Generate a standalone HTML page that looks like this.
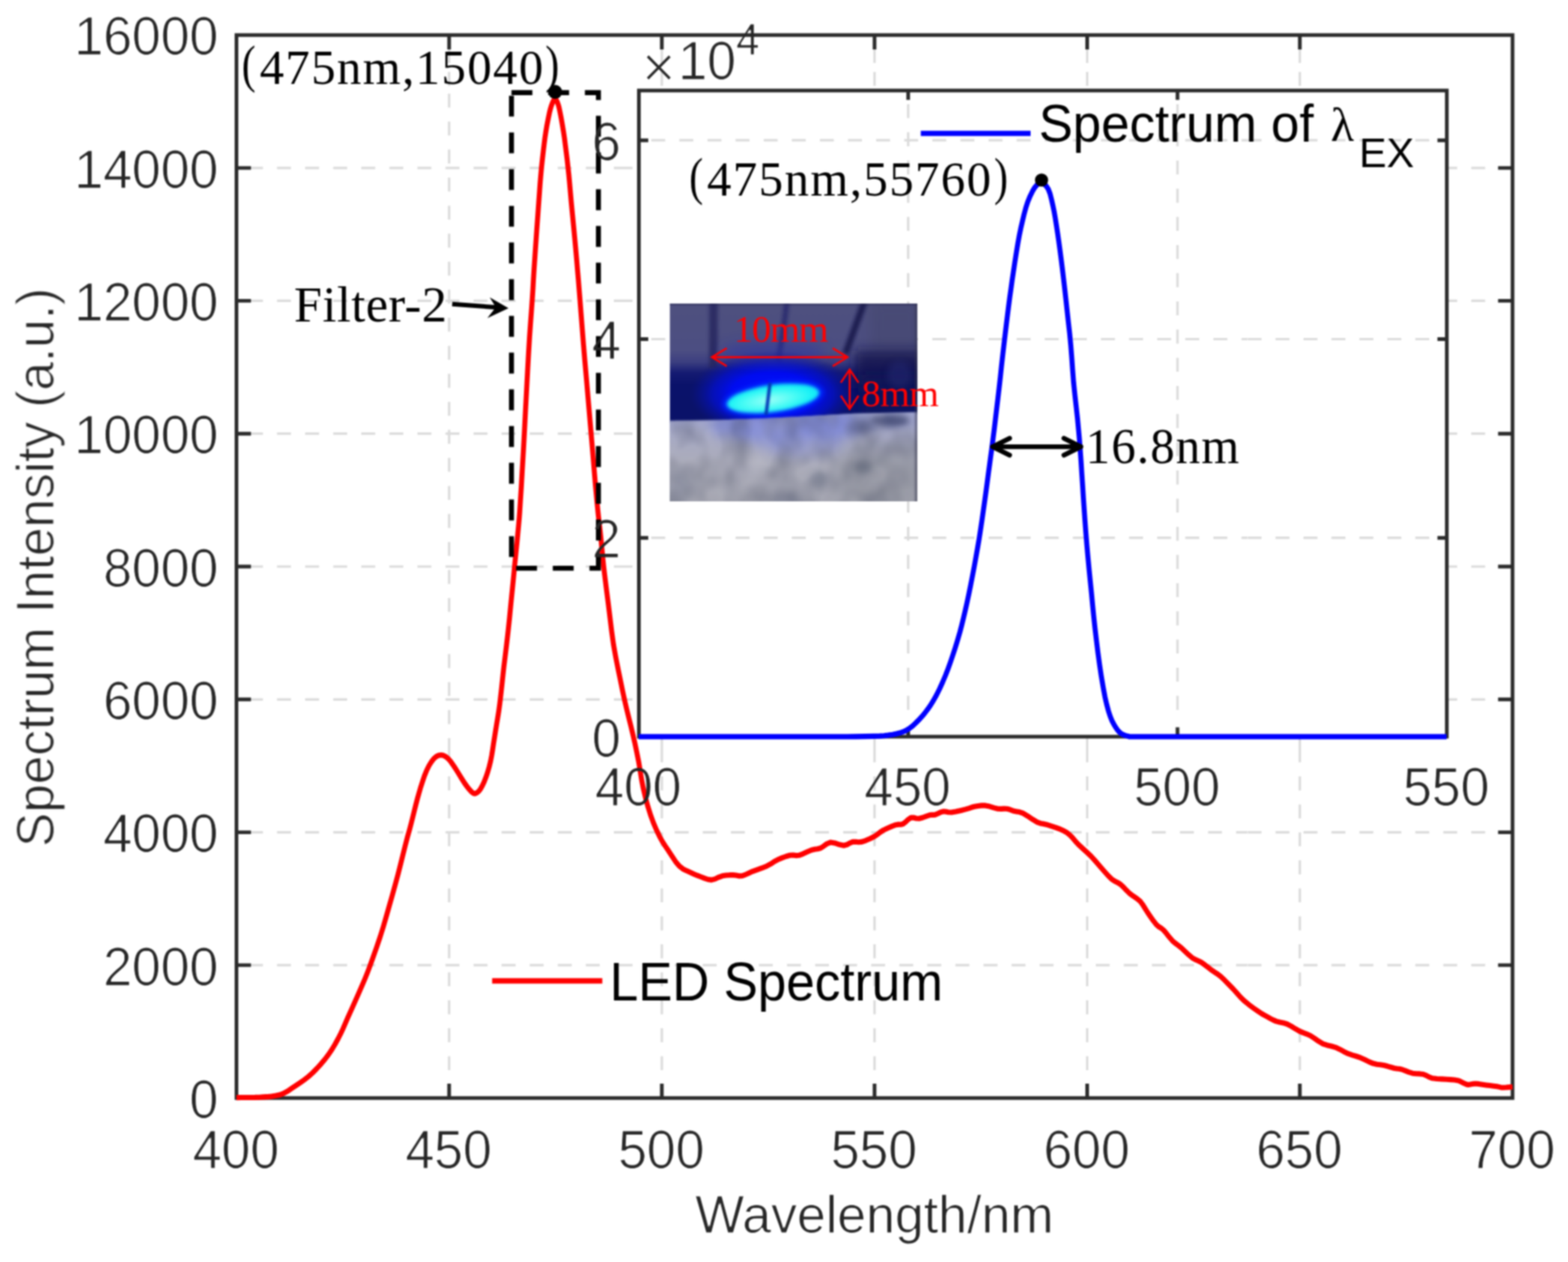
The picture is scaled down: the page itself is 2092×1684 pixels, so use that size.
<!DOCTYPE html>
<html lang="en"><head><meta charset="utf-8"><title>LED Spectrum</title>
<style>html,body{margin:0;padding:0;background:#fff;}body{width:2092px;height:1684px;overflow:hidden;}svg{display:block;}text{white-space:pre;}</style>
</head><body>
<svg xmlns="http://www.w3.org/2000/svg" width="2092" height="1684" viewBox="0 0 2092 1684">
<defs>
<filter id="thin" filterUnits="userSpaceOnUse" x="0" y="0" width="2092" height="1684"><feMorphology operator="erode" radius="1"/></filter>
<filter id="soft" filterUnits="userSpaceOnUse" x="0" y="0" width="2092" height="1684" color-interpolation-filters="sRGB"><feConvolveMatrix order="5" kernelMatrix="1 4 6 4 1 4 16 24 16 4 6 24 36 24 6 4 16 24 16 4 1 4 6 4 1" divisor="256" edgeMode="duplicate" preserveAlpha="true"/></filter>
<filter id="b1" filterUnits="userSpaceOnUse" x="840" y="360" width="440" height="360"><feGaussianBlur stdDeviation="1.2"/></filter>
<filter id="b2" filterUnits="userSpaceOnUse" x="840" y="360" width="440" height="360"><feGaussianBlur stdDeviation="2"/></filter>
<filter id="b3" filterUnits="userSpaceOnUse" x="840" y="360" width="440" height="360"><feGaussianBlur stdDeviation="3"/></filter>
<filter id="b4" filterUnits="userSpaceOnUse" x="840" y="360" width="440" height="360"><feGaussianBlur stdDeviation="4"/></filter>
<filter id="b8" filterUnits="userSpaceOnUse" x="840" y="360" width="440" height="360"><feGaussianBlur stdDeviation="8"/></filter>
<filter id="b14" filterUnits="userSpaceOnUse" x="840" y="360" width="440" height="360"><feGaussianBlur stdDeviation="14"/></filter>
<filter id="noise" x="0" y="0" width="100%" height="100%" color-interpolation-filters="sRGB">
<feTurbulence type="fractalNoise" baseFrequency="0.03 0.026" numOctaves="2" seed="11" result="n"/>
<feColorMatrix in="n" type="matrix" values="0 0 0 0 0.3  0 0 0 0 0.32  0 0 0 0 0.4  1.5 0 0 0 -0.5"/>
</filter>
<filter id="noiseL" x="0" y="0" width="100%" height="100%" color-interpolation-filters="sRGB">
<feTurbulence type="fractalNoise" baseFrequency="0.03 0.025" numOctaves="2" seed="29" result="n"/>
<feColorMatrix in="n" type="matrix" values="0 0 0 0 0.8  0 0 0 0 0.8  0 0 0 0 0.84  0 1.5 0 0 -0.55"/>
</filter>
<linearGradient id="pTop" x1="0" y1="0" x2="0" y2="1">
<stop offset="0" stop-color="#4e507e"/>
<stop offset="0.38" stop-color="#4c4e82"/>
<stop offset="0.47" stop-color="#3c3f80"/>
<stop offset="0.56" stop-color="#141a72"/>
<stop offset="0.66" stop-color="#0a126a"/>
<stop offset="1" stop-color="#0a1268"/>
</linearGradient>
<linearGradient id="pBot" x1="0" y1="0" x2="0" y2="1">
<stop offset="0" stop-color="#9aa0d2"/>
<stop offset="0.25" stop-color="#a4a7c4"/>
<stop offset="0.55" stop-color="#acadbb"/>
<stop offset="1" stop-color="#a2a3ae"/>
</linearGradient>
<radialGradient id="glow" cx="0.5" cy="0.5" r="0.5">
<stop offset="0" stop-color="#0010ff" stop-opacity="1"/>
<stop offset="0.5" stop-color="#000cf0" stop-opacity="1"/>
<stop offset="0.72" stop-color="#0410c8" stop-opacity="0.8"/>
<stop offset="0.88" stop-color="#0812a0" stop-opacity="0.4"/>
<stop offset="1" stop-color="#0a1280" stop-opacity="0"/>
</radialGradient>
<radialGradient id="spot" cx="0.46" cy="0.55" r="0.6">
<stop offset="0" stop-color="#9cfff8"/>
<stop offset="0.45" stop-color="#4cfcf4"/>
<stop offset="0.8" stop-color="#14f0f6"/>
<stop offset="1" stop-color="#10d8f8"/>
</radialGradient>
<clipPath id="pclip"><rect x="893.6" y="405.2" width="330.2" height="263.8"/></clipPath>
<clipPath id="gclip"><path d="M880,561.6 L960,560.4 L1060,556.2 L1140,551.8 L1240,549.6 L1240,690 L880,690 Z"/></clipPath>
<clipPath id="tclip"><path d="M880,390 L1240,390 L1240,553 L1140,555 L1060,559.4 L960,563.6 L880,564.8 Z"/></clipPath>
</defs>

<rect width="2092" height="1684" fill="#fff"/>
<g id="figure" filter="url(#soft)">
<rect width="2092" height="1684" fill="#fff"/>
<g id="main-grid" stroke="#dbdbdb" stroke-width="3.2" fill="none">
<path d="M599.2,1465.2 V1446.8 M599.2,1428.1 V1409.5 M599.2,1390.7 V1372.1 M599.2,1353.4 V1334.8 M599.2,1316 V1297.4 M599.2,1278.7 V1260.1 M599.2,1241.4 V1222.8 M599.2,1204 V1185.4 M599.2,1166.7 V1148.1 M599.2,1129.3 V1110.7 M599.2,1092 V1073.4 M599.2,1054.7 V1036.1 M599.2,1017.3 V1003.6 M599.2,1003.6 V985 M599.2,966.2 V947.6 M599.2,928.8 V910.2 M599.2,891.4 V872.8 M599.2,854 V835.4 M599.2,816.6 V798 M599.2,779.2 V760.6 M599.2,741.8 V723.2 M599.2,704.4 V685.8 M599.2,667 V648.4 M599.2,629.6 V611 M599.2,592.2 V573.6 M599.2,554.8 V536.2 M599.2,517.4 V498.8 M599.2,480 V461.4 M599.2,442.6 V424 M599.2,405.2 V386.6 M599.2,367.8 V349.2 M599.2,330.4 V311.8 M599.2,293 V274.4 M599.2,255.6 V237 M599.2,218.2 V199.6 M599.2,180.8 V162.2 M599.2,143.4 V125 M599.2,114.5 V95.9 M599.2,84 V65.4"/>
<path d="M883,1465.2 V1446.8 M883,1428.1 V1409.5 M883,1390.7 V1372.1 M883,1353.4 V1334.8 M883,1316 V1297.4 M883,1278.7 V1260.1 M883,1241.4 V1222.8 M883,1204 V1185.4 M883,1166.7 V1148.1 M883,1129.3 V1110.7 M883,1092 V1073.4 M883,1054.7 V1036.1 M883,1017.3 V1003.6 M883,1003.6 V985 M883,966.2 V947.6 M883,928.8 V910.2 M883,891.4 V872.8 M883,854 V835.4 M883,816.6 V798 M883,779.2 V760.6 M883,741.8 V723.2 M883,704.4 V685.8 M883,667 V648.4 M883,629.6 V611 M883,592.2 V573.6 M883,554.8 V536.2 M883,517.4 V498.8 M883,480 V461.4 M883,442.6 V424 M883,405.2 V386.6 M883,367.8 V349.2 M883,330.4 V311.8 M883,293 V274.4 M883,255.6 V237 M883,218.2 V199.6 M883,180.8 V162.2 M883,143.4 V125 M883,114.5 V95.9 M883,84 V65.4"/>
<path d="M1166.8,1465.2 V1446.8 M1166.8,1428.1 V1409.5 M1166.8,1390.7 V1372.1 M1166.8,1353.4 V1334.8 M1166.8,1316 V1297.4 M1166.8,1278.7 V1260.1 M1166.8,1241.4 V1222.8 M1166.8,1204 V1185.4 M1166.8,1166.7 V1148.1 M1166.8,1129.3 V1110.7 M1166.8,1092 V1073.4 M1166.8,1054.7 V1036.1 M1166.8,1017.3 V1003.6 M1166.8,1003.6 V985 M1166.8,966.2 V947.6 M1166.8,928.8 V910.2 M1166.8,891.4 V872.8 M1166.8,854 V835.4 M1166.8,816.6 V798 M1166.8,779.2 V760.6 M1166.8,741.8 V723.2 M1166.8,704.4 V685.8 M1166.8,667 V648.4 M1166.8,629.6 V611 M1166.8,592.2 V573.6 M1166.8,554.8 V536.2 M1166.8,517.4 V498.8 M1166.8,480 V461.4 M1166.8,442.6 V424 M1166.8,405.2 V386.6 M1166.8,367.8 V349.2 M1166.8,330.4 V311.8 M1166.8,293 V274.4 M1166.8,255.6 V237 M1166.8,218.2 V199.6 M1166.8,180.8 V162.2 M1166.8,143.4 V125 M1166.8,114.5 V95.9 M1166.8,84 V65.4"/>
<path d="M1450.5,1465.2 V1446.8 M1450.5,1428.1 V1409.5 M1450.5,1390.7 V1372.1 M1450.5,1353.4 V1334.8 M1450.5,1316 V1297.4 M1450.5,1278.7 V1260.1 M1450.5,1241.4 V1222.8 M1450.5,1204 V1185.4 M1450.5,1166.7 V1148.1 M1450.5,1129.3 V1110.7 M1450.5,1092 V1073.4 M1450.5,1054.7 V1036.1 M1450.5,1017.3 V1003.6 M1450.5,1003.6 V985 M1450.5,966.2 V947.6 M1450.5,928.8 V910.2 M1450.5,891.4 V872.8 M1450.5,854 V835.4 M1450.5,816.6 V798 M1450.5,779.2 V760.6 M1450.5,741.8 V723.2 M1450.5,704.4 V685.8 M1450.5,667 V648.4 M1450.5,629.6 V611 M1450.5,592.2 V573.6 M1450.5,554.8 V536.2 M1450.5,517.4 V498.8 M1450.5,480 V461.4 M1450.5,442.6 V424 M1450.5,405.2 V386.6 M1450.5,367.8 V349.2 M1450.5,330.4 V311.8 M1450.5,293 V274.4 M1450.5,255.6 V237 M1450.5,218.2 V199.6 M1450.5,180.8 V162.2 M1450.5,143.4 V125 M1450.5,114.5 V95.9 M1450.5,84 V65.4"/>
<path d="M1734.2,1465.2 V1446.8 M1734.2,1428.1 V1409.5 M1734.2,1390.7 V1372.1 M1734.2,1353.4 V1334.8 M1734.2,1316 V1297.4 M1734.2,1278.7 V1260.1 M1734.2,1241.4 V1222.8 M1734.2,1204 V1185.4 M1734.2,1166.7 V1148.1 M1734.2,1129.3 V1110.7 M1734.2,1092 V1073.4 M1734.2,1054.7 V1036.1 M1734.2,1017.3 V1003.6 M1734.2,1003.6 V985 M1734.2,966.2 V947.6 M1734.2,928.8 V910.2 M1734.2,891.4 V872.8 M1734.2,854 V835.4 M1734.2,816.6 V798 M1734.2,779.2 V760.6 M1734.2,741.8 V723.2 M1734.2,704.4 V685.8 M1734.2,667 V648.4 M1734.2,629.6 V611 M1734.2,592.2 V573.6 M1734.2,554.8 V536.2 M1734.2,517.4 V498.8 M1734.2,480 V461.4 M1734.2,442.6 V424 M1734.2,405.2 V386.6 M1734.2,367.8 V349.2 M1734.2,330.4 V311.8 M1734.2,293 V274.4 M1734.2,255.6 V237 M1734.2,218.2 V199.6 M1734.2,180.8 V162.2 M1734.2,143.4 V125 M1734.2,114.5 V95.9 M1734.2,84 V65.4"/>
<path d="M332.2,1287.9 H350.8 M369.6,1287.9 H388.2 M407.1,1287.9 H425.7 M444.6,1287.9 H463.2 M482,1287.9 H500.6 M519.5,1287.9 H538.1 M556.9,1287.9 H575.5 M594.4,1287.9 H613 M631.8,1287.9 H650.4 M669.2,1287.9 H687.9 M706.7,1287.9 H725.3 M744.2,1287.9 H762.8 M781.6,1287.9 H800.2 M819,1287.9 H825.3 M825.3,1287.9 H843.9 M862.8,1287.9 H881.4 M900.2,1287.9 H918.8 M937.6,1287.9 H956.2 M975.1,1287.9 H993.7 M1012.5,1287.9 H1031.1 M1050,1287.9 H1068.6 M1087.5,1287.9 H1106 M1124.9,1287.9 H1143.5 M1162.3,1287.9 H1180.9 M1199.8,1287.9 H1218.4 M1237.2,1287.9 H1255.8 M1274.7,1287.9 H1293.3 M1312.2,1287.9 H1330.8 M1349.6,1287.9 H1368.2 M1387,1287.9 H1405.6 M1424.5,1287.9 H1443.1 M1462,1287.9 H1480.5 M1499.4,1287.9 H1518 M1536.8,1287.9 H1555.4 M1574.3,1287.9 H1592.9 M1611.8,1287.9 H1630.3 M1649.2,1287.9 H1664 M1664.5,1287.9 H1683.1 M1701.8,1287.9 H1720.4 M1739.1,1287.9 H1757.7 M1776.4,1287.9 H1795 M1813.7,1287.9 H1832.3 M1851,1287.9 H1869.6 M1888.3,1287.9 H1906.9 M1925.6,1287.9 H1944.2 M1962.9,1287.9 H1981.5 M2000.2,1287.9 H2018"/>
<path d="M332.2,1110.6 H350.8 M369.6,1110.6 H388.2 M407.1,1110.6 H425.7 M444.6,1110.6 H463.2 M482,1110.6 H500.6 M519.5,1110.6 H538.1 M556.9,1110.6 H575.5 M594.4,1110.6 H613 M631.8,1110.6 H650.4 M669.2,1110.6 H687.9 M706.7,1110.6 H725.3 M744.2,1110.6 H762.8 M781.6,1110.6 H800.2 M819,1110.6 H825.3 M825.3,1110.6 H843.9 M862.8,1110.6 H881.4 M900.2,1110.6 H918.8 M937.6,1110.6 H956.2 M975.1,1110.6 H993.7 M1012.5,1110.6 H1031.1 M1050,1110.6 H1068.6 M1087.5,1110.6 H1106 M1124.9,1110.6 H1143.5 M1162.3,1110.6 H1180.9 M1199.8,1110.6 H1218.4 M1237.2,1110.6 H1255.8 M1274.7,1110.6 H1293.3 M1312.2,1110.6 H1330.8 M1349.6,1110.6 H1368.2 M1387,1110.6 H1405.6 M1424.5,1110.6 H1443.1 M1462,1110.6 H1480.5 M1499.4,1110.6 H1518 M1536.8,1110.6 H1555.4 M1574.3,1110.6 H1592.9 M1611.8,1110.6 H1630.3 M1649.2,1110.6 H1664 M1664.5,1110.6 H1683.1 M1701.8,1110.6 H1720.4 M1739.1,1110.6 H1757.7 M1776.4,1110.6 H1795 M1813.7,1110.6 H1832.3 M1851,1110.6 H1869.6 M1888.3,1110.6 H1906.9 M1925.6,1110.6 H1944.2 M1962.9,1110.6 H1981.5 M2000.2,1110.6 H2018"/>
<path d="M332.2,933.3 H350.8 M369.6,933.3 H388.2 M407.1,933.3 H425.7 M444.6,933.3 H463.2 M482,933.3 H500.6 M519.5,933.3 H538.1 M556.9,933.3 H575.5 M594.4,933.3 H613 M631.8,933.3 H650.4 M669.2,933.3 H687.9 M706.7,933.3 H725.3 M744.2,933.3 H762.8 M781.6,933.3 H800.2 M819,933.3 H825.3 M825.3,933.3 H843.9 M862.8,933.3 H881.4 M900.2,933.3 H918.8 M937.6,933.3 H956.2 M975.1,933.3 H993.7 M1012.5,933.3 H1031.1 M1050,933.3 H1068.6 M1087.5,933.3 H1106 M1124.9,933.3 H1143.5 M1162.3,933.3 H1180.9 M1199.8,933.3 H1218.4 M1237.2,933.3 H1255.8 M1274.7,933.3 H1293.3 M1312.2,933.3 H1330.8 M1349.6,933.3 H1368.2 M1387,933.3 H1405.6 M1424.5,933.3 H1443.1 M1462,933.3 H1480.5 M1499.4,933.3 H1518 M1536.8,933.3 H1555.4 M1574.3,933.3 H1592.9 M1611.8,933.3 H1630.3 M1649.2,933.3 H1664 M1664.5,933.3 H1683.1 M1701.8,933.3 H1720.4 M1739.1,933.3 H1757.7 M1776.4,933.3 H1795 M1813.7,933.3 H1832.3 M1851,933.3 H1869.6 M1888.3,933.3 H1906.9 M1925.6,933.3 H1944.2 M1962.9,933.3 H1981.5 M2000.2,933.3 H2018"/>
<path d="M332.2,756 H350.8 M369.6,756 H388.2 M407.1,756 H425.7 M444.6,756 H463.2 M482,756 H500.6 M519.5,756 H538.1 M556.9,756 H575.5 M594.4,756 H613 M631.8,756 H650.4 M669.2,756 H687.9 M706.7,756 H725.3 M744.2,756 H762.8 M781.6,756 H800.2 M819,756 H825.3 M825.3,756 H843.9 M862.8,756 H881.4 M900.2,756 H918.8 M937.6,756 H956.2 M975.1,756 H993.7 M1012.5,756 H1031.1 M1050,756 H1068.6 M1087.5,756 H1106 M1124.9,756 H1143.5 M1162.3,756 H1180.9 M1199.8,756 H1218.4 M1237.2,756 H1255.8 M1274.7,756 H1293.3 M1312.2,756 H1330.8 M1349.6,756 H1368.2 M1387,756 H1405.6 M1424.5,756 H1443.1 M1462,756 H1480.5 M1499.4,756 H1518 M1536.8,756 H1555.4 M1574.3,756 H1592.9 M1611.8,756 H1630.3 M1649.2,756 H1664 M1664.5,756 H1683.1 M1701.8,756 H1720.4 M1739.1,756 H1757.7 M1776.4,756 H1795 M1813.7,756 H1832.3 M1851,756 H1869.6 M1888.3,756 H1906.9 M1925.6,756 H1944.2 M1962.9,756 H1981.5 M2000.2,756 H2018"/>
<path d="M332.2,578.7 H350.8 M369.6,578.7 H388.2 M407.1,578.7 H425.7 M444.6,578.7 H463.2 M482,578.7 H500.6 M519.5,578.7 H538.1 M556.9,578.7 H575.5 M594.4,578.7 H613 M631.8,578.7 H650.4 M669.2,578.7 H687.9 M706.7,578.7 H725.3 M744.2,578.7 H762.8 M781.6,578.7 H800.2 M819,578.7 H825.3 M825.3,578.7 H843.9 M862.8,578.7 H881.4 M900.2,578.7 H918.8 M937.6,578.7 H956.2 M975.1,578.7 H993.7 M1012.5,578.7 H1031.1 M1050,578.7 H1068.6 M1087.5,578.7 H1106 M1124.9,578.7 H1143.5 M1162.3,578.7 H1180.9 M1199.8,578.7 H1218.4 M1237.2,578.7 H1255.8 M1274.7,578.7 H1293.3 M1312.2,578.7 H1330.8 M1349.6,578.7 H1368.2 M1387,578.7 H1405.6 M1424.5,578.7 H1443.1 M1462,578.7 H1480.5 M1499.4,578.7 H1518 M1536.8,578.7 H1555.4 M1574.3,578.7 H1592.9 M1611.8,578.7 H1630.3 M1649.2,578.7 H1664 M1664.5,578.7 H1683.1 M1701.8,578.7 H1720.4 M1739.1,578.7 H1757.7 M1776.4,578.7 H1795 M1813.7,578.7 H1832.3 M1851,578.7 H1869.6 M1888.3,578.7 H1906.9 M1925.6,578.7 H1944.2 M1962.9,578.7 H1981.5 M2000.2,578.7 H2018"/>
<path d="M332.2,401.4 H350.8 M369.6,401.4 H388.2 M407.1,401.4 H425.7 M444.6,401.4 H463.2 M482,401.4 H500.6 M519.5,401.4 H538.1 M556.9,401.4 H575.5 M594.4,401.4 H613 M631.8,401.4 H650.4 M669.2,401.4 H687.9 M706.7,401.4 H725.3 M744.2,401.4 H762.8 M781.6,401.4 H800.2 M819,401.4 H825.3 M825.3,401.4 H843.9 M862.8,401.4 H881.4 M900.2,401.4 H918.8 M937.6,401.4 H956.2 M975.1,401.4 H993.7 M1012.5,401.4 H1031.1 M1050,401.4 H1068.6 M1087.5,401.4 H1106 M1124.9,401.4 H1143.5 M1162.3,401.4 H1180.9 M1199.8,401.4 H1218.4 M1237.2,401.4 H1255.8 M1274.7,401.4 H1293.3 M1312.2,401.4 H1330.8 M1349.6,401.4 H1368.2 M1387,401.4 H1405.6 M1424.5,401.4 H1443.1 M1462,401.4 H1480.5 M1499.4,401.4 H1518 M1536.8,401.4 H1555.4 M1574.3,401.4 H1592.9 M1611.8,401.4 H1630.3 M1649.2,401.4 H1664 M1664.5,401.4 H1683.1 M1701.8,401.4 H1720.4 M1739.1,401.4 H1757.7 M1776.4,401.4 H1795 M1813.7,401.4 H1832.3 M1851,401.4 H1869.6 M1888.3,401.4 H1906.9 M1925.6,401.4 H1944.2 M1962.9,401.4 H1981.5 M2000.2,401.4 H2018"/>
<path d="M332.2,224.1 H350.8 M369.6,224.1 H388.2 M407.1,224.1 H425.7 M444.6,224.1 H463.2 M482,224.1 H500.6 M519.5,224.1 H538.1 M556.9,224.1 H575.5 M594.4,224.1 H613 M631.8,224.1 H650.4 M669.2,224.1 H687.9 M706.7,224.1 H725.3 M744.2,224.1 H762.8 M781.6,224.1 H800.2 M819,224.1 H825.3 M825.3,224.1 H843.9 M862.8,224.1 H881.4 M900.2,224.1 H918.8 M937.6,224.1 H956.2 M975.1,224.1 H993.7 M1012.5,224.1 H1031.1 M1050,224.1 H1068.6 M1087.5,224.1 H1106 M1124.9,224.1 H1143.5 M1162.3,224.1 H1180.9 M1199.8,224.1 H1218.4 M1237.2,224.1 H1255.8 M1274.7,224.1 H1293.3 M1312.2,224.1 H1330.8 M1349.6,224.1 H1368.2 M1387,224.1 H1405.6 M1424.5,224.1 H1443.1 M1462,224.1 H1480.5 M1499.4,224.1 H1518 M1536.8,224.1 H1555.4 M1574.3,224.1 H1592.9 M1611.8,224.1 H1630.3 M1649.2,224.1 H1664 M1664.5,224.1 H1683.1 M1701.8,224.1 H1720.4 M1739.1,224.1 H1757.7 M1776.4,224.1 H1795 M1813.7,224.1 H1832.3 M1851,224.1 H1869.6 M1888.3,224.1 H1906.9 M1925.6,224.1 H1944.2 M1962.9,224.1 H1981.5 M2000.2,224.1 H2018"/>
</g>
<clipPath id="mclip"><rect x="313.5" y="46.8" width="1706.5" height="1422.4"/></clipPath>
<g id="main-axes" stroke="#2b2b2b" stroke-width="4.9" fill="none" stroke-linecap="butt">
<rect x="315.5" y="46.8" width="1702.5" height="1418.4"/>
<path d="M599.2,1465.2 v-19.3 M599.2,46.8 v19.3"/>
<path d="M883,1465.2 v-19.3 M883,46.8 v19.3"/>
<path d="M1166.8,1465.2 v-19.3 M1166.8,46.8 v19.3"/>
<path d="M1450.5,1465.2 v-19.3 M1450.5,46.8 v19.3"/>
<path d="M1734.2,1465.2 v-19.3 M1734.2,46.8 v19.3"/>
<path d="M315.5,1287.9 h19.3 M2018,1287.9 h-19.3"/>
<path d="M315.5,1110.6 h19.3 M2018,1110.6 h-19.3"/>
<path d="M315.5,933.3 h19.3 M2018,933.3 h-19.3"/>
<path d="M315.5,756 h19.3 M2018,756 h-19.3"/>
<path d="M315.5,578.7 h19.3 M2018,578.7 h-19.3"/>
<path d="M315.5,401.4 h19.3 M2018,401.4 h-19.3"/>
<path d="M315.5,224.1 h19.3 M2018,224.1 h-19.3"/>
</g>
<g clip-path="url(#mclip)"><path id="led" transform="scale(1,1.06)" d="M315.5,1381.7 L322.2,1381.67 L331.6,1381.62 L340,1381.51 L345.9,1381.3 L350.8,1381.03 L355,1380.75 L358.2,1380.57 L360.7,1380.37 L363.8,1379.91 L368.1,1379.24 L372.9,1378.31 L378.1,1376.6 L383.5,1373.76 L389.2,1370.14 L394.9,1366.42 L400.5,1362.92 L406,1359.31 L411.6,1355.19 L417.3,1350.33 L422.9,1344.95 L428.3,1339.34 L433.4,1333.58 L438.2,1327.58 L442.7,1321.32 L446.9,1314.73 L450.9,1307.88 L454.6,1301.04 L457.6,1295.03 L460.4,1289.02 L464.2,1280.75 L470.2,1268.07 L477.3,1253.13 L483.3,1240.19 L487,1231.93 L489.7,1225.66 L492.9,1217.64 L497.4,1206.01 L502.4,1192.62 L507.2,1179.25 L511.4,1166.55 L515.3,1153.87 L519.2,1140.94 L523.3,1127.42 L527.3,1113.65 L531.1,1100.38 L534.5,1087.75 L537.7,1075.61 L540.7,1064.25 L543.6,1053.75 L546.5,1044.01 L549,1035 L551.2,1026.84 L553.1,1019.41 L555,1012.26 L556.9,1005.46 L558.8,998.95 L560.9,992.17 L563.5,984.54 L566.3,976.64 L569.3,969.62 L572.4,963.79 L575.7,958.83 L578.9,955 L582.1,952.41 L585.2,950.94 L588.4,950.47 L591.6,951.02 L594.8,952.58 L598,955 L601.1,958.33 L604.2,962.53 L607.6,967.36 L611.5,973.24 L615.7,979.74 L619.5,985.38 L622.7,989.61 L625.4,992.96 L627.9,995.57 L630,997.54 L631.8,998.75 L633.8,998.96 L636.1,998.08 L638.6,996.19 L641,993.3 L643.4,989.3 L645.9,984.3 L648.2,978.68 L650.5,972.42 L652.6,965.53 L654.5,958.4 L656,951.09 L657.3,943.53 L658.5,935.85 L659.8,928.17 L661.1,920.37 L662.5,912.26 L663.9,904.36 L665.3,896.14 L666.8,885.85 L668.5,872.2 L670.3,856.48 L672.1,840.75 L674,826.06 L675.9,811.36 L677.8,795.66 L679.8,777.95 L681.7,759.22 L683.6,741.51 L685.3,725.47 L686.8,710.44 L688.3,696.42 L689.7,683.45 L690.9,671.48 L692,660.38 L692.8,651.77 L693.4,644.02 L694.2,632.08 L695.5,613.21 L696.9,590.15 L698.4,566.04 L699.8,541.23 L701.2,515.37 L702.6,490.57 L703.9,467.16 L705.2,444.79 L706.5,424.53 L707.8,407.06 L709,391.68 L710.1,377.36 L711,364.12 L711.7,351.92 L712.5,339.62 L713.4,327.04 L714.3,314.35 L715.3,300.94 L716.4,286.05 L717.6,270.45 L718.7,255.85 L719.7,242.9 L720.6,230.96 L721.6,219.81 L722.6,209.52 L723.7,200.03 L724.8,190.94 L725.9,182.18 L727,173.82 L728.3,165.66 L729.8,157.25 L731.5,149.05 L733,142.17 L734.3,137.25 L735.4,133.67 L736.6,130.66 L737.9,127.7 L739.3,125.32 L740.6,124.34 L741.9,125.32 L743.2,127.7 L744.4,130.66 L745.4,133.67 L746.3,137.25 L747.4,142.17 L748.8,149.05 L750.3,157.25 L751.8,165.66 L753.1,173.82 L754.2,182.18 L755.4,190.94 L756.6,200.03 L757.7,209.52 L758.9,219.81 L760,230.96 L761.1,242.9 L762.3,255.85 L763.8,270.45 L765.4,286.05 L766.9,300.94 L768.2,314.35 L769.4,327.04 L770.5,339.62 L771.6,351.57 L772.6,363.42 L773.8,377.36 L775.2,394.48 L776.8,413.7 L778.5,433.96 L780.4,455.28 L782.5,477.64 L784.5,500 L786.5,522.01 L788.5,544.03 L790.5,566.04 L792.5,588.75 L794.5,611.46 L796.5,632.08 L798.4,649.65 L800.3,665.13 L801.9,679.25 L803.1,691.4 L804.2,702.2 L805.5,714.15 L807.3,728.23 L809.3,743.47 L811.5,759.43 L813.7,776.48 L816,794.27 L818.5,811.32 L821.5,827.29 L824.7,842.52 L827.8,856.6 L830.5,869.08 L833.1,880.4 L835.8,891.51 L838.7,902.62 L841.6,913.53 L844.4,924.53 L847.1,935.76 L849.6,947.08 L852,958.4 L854,969.66 L855.9,980.91 L858.2,992.17 L861.1,1003.71 L864.4,1015.26 L868,1026.04 L871.8,1035.87 L875.9,1044.94 L880,1053.02 L883.9,1059.68 L887.8,1065.35 L892,1071.13 L896.6,1077.86 L901.4,1084.7 L906.3,1090.28 L911.1,1093.81 L915.9,1096.08 L920.7,1098.11 L925.5,1100.23 L930.2,1102.1 L935,1103.77 L939.8,1105.52 L944.5,1107.08 L949.3,1107.64 L954.1,1106.49 L958.9,1104.35 L963.7,1102.64 L968.6,1101.89 L973.4,1101.58 L978,1101.51 L982,1101.97 L985.6,1102.68 L989.6,1102.64 L994,1101.3 L998.7,1099.2 L1003.9,1096.98 L1010.1,1094.87 L1016.8,1092.65 L1023,1090.28 L1028.1,1087.65 L1032.6,1084.88 L1037.4,1082.36 L1043,1080.09 L1048.8,1078.08 L1054.1,1076.7 L1058.2,1076.53 L1061.8,1076.98 L1066,1076.7 L1071.4,1074.8 L1077.4,1072.15 L1082.8,1070 L1087.1,1069.1 L1090.8,1068.7 L1094.7,1067.74 L1098.8,1065.27 L1103.1,1062.25 L1107.9,1060.47 L1113.7,1061.25 L1120.1,1063.26 L1125.8,1064.34 L1130.2,1063.28 L1133.9,1061.3 L1137.7,1059.81 L1141.5,1059.73 L1145.3,1060.15 L1149.7,1059.81 L1155.1,1058.09 L1161,1055.61 L1166.4,1053.02 L1170.6,1050.45 L1174.2,1047.76 L1178.4,1045.19 L1183.9,1042.64 L1189.9,1040.2 L1195.1,1038.4 L1198.8,1037.85 L1201.7,1037.94 L1204.7,1037.26 L1208.2,1034.79 L1211.8,1031.56 L1215.4,1029.34 L1218.9,1029.25 L1222.3,1030.17 L1226.2,1030.47 L1231,1029.26 L1236.1,1027.43 L1240.5,1026.04 L1243.3,1025.72 L1245.3,1025.84 L1247.7,1025.57 L1251,1024.29 L1254.7,1022.61 L1258.4,1021.51 L1261.7,1021.69 L1265,1022.44 L1269.2,1022.64 L1275.2,1021.71 L1282.2,1020.21 L1288.3,1018.77 L1292.7,1017.53 L1296.4,1016.34 L1300.3,1015.38 L1304.8,1014.58 L1309.6,1014.02 L1314.6,1014.06 L1320.2,1015.16 L1326,1016.86 L1331.3,1018.11 L1335.7,1018.31 L1339.7,1018.05 L1343.3,1018.11 L1346.6,1018.88 L1349.5,1019.97 L1352.8,1021.04 L1356.4,1021.65 L1360.2,1022.24 L1364.8,1023.77 L1370.9,1027.19 L1377.8,1031.56 L1383.9,1035 L1388.2,1036.47 L1391.6,1037.02 L1395.9,1037.92 L1402,1039.71 L1408.9,1041.85 L1415,1044.06 L1419.5,1046.03 L1423.2,1048.07 L1426.9,1050.75 L1430.7,1054.4 L1434.5,1058.68 L1438.9,1063.21 L1444.3,1067.94 L1450.1,1072.92 L1455.6,1077.83 L1460.2,1082.54 L1464.4,1087.18 L1468.7,1091.89 L1473.5,1097.01 L1478.4,1102.19 L1483,1106.51 L1487.2,1109.19 L1491.1,1111 L1495,1113.3 L1498.9,1116.75 L1502.8,1120.7 L1506.9,1124.53 L1511.7,1127.88 L1516.8,1131.11 L1521.3,1134.72 L1524.7,1138.89 L1527.6,1143.42 L1530.8,1148.21 L1534.7,1153.62 L1538.9,1159.29 L1542.8,1163.96 L1546.1,1166.64 L1549,1168.32 L1552.3,1170.75 L1556.1,1174.95 L1560.2,1179.9 L1564.3,1184.34 L1568.2,1187.54 L1572.1,1190.23 L1576.2,1193.3 L1580.9,1197.45 L1585.9,1201.98 L1590.6,1205.75 L1594.7,1207.95 L1598.4,1209.38 L1602.5,1211.32 L1607.2,1214.46 L1612.2,1218.11 L1616.9,1221.51 L1620.9,1224.03 L1624.6,1226.3 L1628.8,1229.43 L1634.1,1234.15 L1639.9,1239.73 L1645.5,1245.19 L1650.3,1250.19 L1654.8,1255.06 L1659.9,1259.81 L1666.2,1264.67 L1673,1269.42 L1679,1273.4 L1683.5,1276.18 L1687.3,1278.19 L1691,1280.09 L1694.9,1282.14 L1698.8,1284.07 L1702.9,1285.75 L1707.4,1286.84 L1712.2,1287.68 L1717.2,1289.15 L1722.7,1291.88 L1728.5,1295.24 L1734,1298.21 L1738.9,1300.15 L1743.4,1301.71 L1748.3,1303.77 L1753.7,1307.04 L1759.3,1310.81 L1765,1313.96 L1770.6,1315.77 L1776.2,1316.95 L1781.8,1318.49 L1787.4,1320.95 L1792.9,1323.78 L1798.5,1326.32 L1804.1,1328.17 L1809.6,1329.72 L1815.2,1331.51 L1820.9,1333.96 L1826.6,1336.65 L1832,1338.77 L1837,1339.84 L1841.6,1340.36 L1846.3,1341.04 L1851.2,1342.27 L1856.2,1343.67 L1860.6,1344.81 L1864,1345.33 L1866.8,1345.58 L1870.2,1346.23 L1874.6,1347.74 L1879.6,1349.64 L1884.6,1351.13 L1889.5,1351.67 L1894.3,1351.81 L1898.9,1352.36 L1902.9,1353.88 L1906.6,1355.82 L1911.1,1357.36 L1917.1,1358.07 L1923.9,1358.37 L1930.2,1358.68 L1935.6,1359.08 L1940.5,1359.49 L1944.6,1360.09 L1947.7,1361.04 L1950,1362.17 L1952.2,1363.21 L1954.4,1364.16 L1956.5,1365.01 L1958.9,1365.47 L1961.7,1365.18 L1964.8,1364.49 L1968.5,1364.15 L1972.9,1364.52 L1977.9,1365.23 L1982.8,1365.94 L1987.8,1366.56 L1992.9,1367.17 L1997.2,1367.74 L2000,1368.29 L2002.1,1368.79 L2004.8,1369.06 L2009.3,1368.9 L2014.4,1368.51 L2018,1368.21" fill="none" stroke="#ff0000" stroke-width="6.7" stroke-linejoin="round" stroke-linecap="butt"/></g>
<g id="main-ticklabels" font-family="'Liberation Sans', Arial, Helvetica, sans-serif" font-size="69.0" fill="#262626" stroke="#262626" stroke-width="1.1" filter="url(#thin)">
<text transform="translate(291.2,1491.8) scale(1,1.06)" font-size="69" text-anchor="end">0</text>
<text transform="translate(291.2,1314.5) scale(1,1.06)" font-size="69" text-anchor="end">2000</text>
<text transform="translate(291.2,1137.2) scale(1,1.06)" font-size="69" text-anchor="end">4000</text>
<text transform="translate(291.2,959.9) scale(1,1.06)" font-size="69" text-anchor="end">6000</text>
<text transform="translate(291.2,782.6) scale(1,1.06)" font-size="69" text-anchor="end">8000</text>
<text transform="translate(291.2,605.3) scale(1,1.06)" font-size="69" text-anchor="end">10000</text>
<text transform="translate(291.2,428) scale(1,1.06)" font-size="69" text-anchor="end">12000</text>
<text transform="translate(291.2,250.7) scale(1,1.06)" font-size="69" text-anchor="end">14000</text>
<text transform="translate(291.2,73.4) scale(1,1.06)" font-size="69" text-anchor="end">16000</text>
<text transform="translate(314.7,1559) scale(1,1.06)" font-size="69" text-anchor="middle">400</text>
<text transform="translate(598.5,1559) scale(1,1.06)" font-size="69" text-anchor="middle">450</text>
<text transform="translate(882.2,1559) scale(1,1.06)" font-size="69" text-anchor="middle">500</text>
<text transform="translate(1166,1559) scale(1,1.06)" font-size="69" text-anchor="middle">550</text>
<text transform="translate(1449.7,1559) scale(1,1.06)" font-size="69" text-anchor="middle">600</text>
<text transform="translate(1733.5,1559) scale(1,1.06)" font-size="69" text-anchor="middle">650</text>
<text transform="translate(2017.2,1559) scale(1,1.06)" font-size="69" text-anchor="middle">700</text>
</g>
<g id="axis-labels" stroke="#262626" stroke-width="1.1" filter="url(#thin)">
<text transform="translate(1166.5,1645.4) scale(1,1.03)" font-size="69.2" font-family="'Liberation Sans', Arial, Helvetica, sans-serif" text-anchor="middle" fill="#262626">Wavelength/nm</text>
<text transform="translate(71.4,757.2) rotate(-90) scale(1,1.03)" font-size="68.5" font-family="'Liberation Sans', Arial, Helvetica, sans-serif" text-anchor="middle" fill="#262626">Spectrum Intensity (a.u.)</text>
</g>
<path d="M656.6,1308.8 H803.6" stroke="#ff0000" stroke-width="7.2" fill="none"/>
<text transform="translate(813.4,1335) scale(1,1.045)" font-size="68.4" font-family="'Liberation Sans', Arial, Helvetica, sans-serif" fill="#000">LED Spectrum</text>
<g id="ann1" font-family="'Liberation Serif', 'Times New Roman', Times, serif" fill="#000">
<text transform="translate(322.6,109.4) scale(0.86,1.07)" font-size="65">(</text>
<text transform="translate(346.4,111.8)" font-size="65" letter-spacing="1.9">475nm,15040</text>
<text transform="translate(727.6,109.4) scale(0.86,1.07)" font-size="65">)</text>
</g>
<path id="filter-box" d="M682.4,123.6 H798.4 V758.3 H682.4 Z" fill="none" stroke="#000" stroke-width="6.6" stroke-dasharray="27.9 21.08"/>
<circle cx="740.7" cy="122.6" r="9.3" fill="#000"/>
<text id="ann2" x="392.3" y="428.7" font-family="'Liberation Serif', 'Times New Roman', Times, serif" font-size="67" fill="#000" textLength="204" lengthAdjust="spacing">Filter-2</text>
<path d="M603.3,405.8 L664,410.2" stroke="#000" stroke-width="6" fill="none"/>
<path d="M678.5,411.3 L653.3,396.8 L661.5,410 L650.2,424.6 Z" fill="#000"/>
<g id="inset">
<rect x="852.4" y="120.8" width="1077.9" height="862.2" fill="#fff"/>
<g id="inset-grid" stroke="#dbdbdb" stroke-width="3.2" fill="none">
<path d="M1211.7,947.2 V928.6 M1211.7,909.6 V891 M1211.7,872 V853.4 M1211.7,834.4 V815.8 M1211.7,796.8 V778.2 M1211.7,759.2 V740.6 M1211.7,721.6 V703 M1211.7,684 V665.4 M1211.7,646.4 V627.8 M1211.7,608.8 V590.2 M1211.7,571.2 V552.6 M1211.7,533.6 V515 M1211.7,496 V477.4 M1211.7,458.4 V439.8 M1211.7,420.8 V402.2 M1211.7,383.2 V364.6 M1211.7,345.6 V327 M1211.7,308 V289.4 M1211.7,270.4 V251.8 M1211.7,232.8 V214.2 M1211.7,195.2 V176.6 M1211.7,157.6 V139"/>
<path d="M1571,947.2 V928.6 M1571,909.6 V891 M1571,872 V853.4 M1571,834.4 V815.8 M1571,796.8 V778.2 M1571,759.2 V740.6 M1571,721.6 V703 M1571,684 V665.4 M1571,646.4 V627.8 M1571,608.8 V590.2 M1571,571.2 V552.6 M1571,533.6 V515 M1571,496 V477.4 M1571,458.4 V439.8 M1571,420.8 V402.2 M1571,383.2 V364.6 M1571,345.6 V327 M1571,308 V289.4 M1571,270.4 V251.8 M1571,232.8 V214.2 M1571,195.2 V176.6 M1571,157.6 V139"/>
<path d="M868.9,717.7 H887.5 M906.4,717.7 H925 M943.9,717.7 H962.5 M981.4,717.7 H1000 M1018.9,717.7 H1037.5 M1056.4,717.7 H1075 M1093.9,717.7 H1112.5 M1131.4,717.7 H1150 M1168.9,717.7 H1187.5 M1206.4,717.7 H1225 M1243.9,717.7 H1262.5 M1281.4,717.7 H1300 M1318.9,717.7 H1337.5 M1356.4,717.7 H1375 M1393.9,717.7 H1412.5 M1431.4,717.7 H1450 M1468.9,717.7 H1487.5 M1506.4,717.7 H1525 M1543.9,717.7 H1562.5 M1581.4,717.7 H1600 M1618.9,717.7 H1637.5 M1656.4,717.7 H1664 M1664.5,717.7 H1683.1 M1701.8,717.7 H1720.4 M1739.1,717.7 H1757.7 M1776.4,717.7 H1795 M1813.7,717.7 H1832.3 M1851,717.7 H1869.6 M1888.3,717.7 H1906.9 M1925.6,717.7 H1930.3"/>
<path d="M868.9,452.5 H887.5 M906.4,452.5 H925 M943.9,452.5 H962.5 M981.4,452.5 H1000 M1018.9,452.5 H1037.5 M1056.4,452.5 H1075 M1093.9,452.5 H1112.5 M1131.4,452.5 H1150 M1168.9,452.5 H1187.5 M1206.4,452.5 H1225 M1243.9,452.5 H1262.5 M1281.4,452.5 H1300 M1318.9,452.5 H1337.5 M1356.4,452.5 H1375 M1393.9,452.5 H1412.5 M1431.4,452.5 H1450 M1468.9,452.5 H1487.5 M1506.4,452.5 H1525 M1543.9,452.5 H1562.5 M1581.4,452.5 H1600 M1618.9,452.5 H1637.5 M1656.4,452.5 H1664 M1664.5,452.5 H1683.1 M1701.8,452.5 H1720.4 M1739.1,452.5 H1757.7 M1776.4,452.5 H1795 M1813.7,452.5 H1832.3 M1851,452.5 H1869.6 M1888.3,452.5 H1906.9 M1925.6,452.5 H1930.3"/>
<path d="M868.9,187.2 H887.5 M906.4,187.2 H925 M943.9,187.2 H962.5 M981.4,187.2 H1000 M1018.9,187.2 H1037.5 M1056.4,187.2 H1075 M1093.9,187.2 H1112.5 M1131.4,187.2 H1150 M1168.9,187.2 H1187.5 M1206.4,187.2 H1225 M1243.9,187.2 H1262.5 M1281.4,187.2 H1300 M1318.9,187.2 H1337.5 M1356.4,187.2 H1375 M1393.9,187.2 H1412.5 M1431.4,187.2 H1450 M1468.9,187.2 H1487.5 M1506.4,187.2 H1525 M1543.9,187.2 H1562.5 M1581.4,187.2 H1600 M1618.9,187.2 H1637.5 M1656.4,187.2 H1664 M1664.5,187.2 H1683.1 M1701.8,187.2 H1720.4 M1739.1,187.2 H1757.7 M1776.4,187.2 H1795 M1813.7,187.2 H1832.3 M1851,187.2 H1869.6 M1888.3,187.2 H1906.9 M1925.6,187.2 H1930.3"/>
</g>
<g id="photo" clip-path="url(#pclip)">
<rect x="893.6" y="405.2" width="330.2" height="263.8" fill="#a4a6b8"/>
<g clip-path="url(#tclip)">
<rect x="893.6" y="405.2" width="330.2" height="165" fill="url(#pTop)"/>
<rect x="1160" y="400" width="70" height="80" fill="#44466e" opacity="0.55" filter="url(#b8)"/>
<rect x="1140" y="468" width="95" height="50" fill="#161850" opacity="0.85" filter="url(#b8)"/>
<rect x="1150" y="500" width="85" height="56" fill="#0e1258" opacity="0.7" filter="url(#b8)"/>
<ellipse cx="1200" cy="500" rx="16" ry="18" fill="#24286e" opacity="0.6" filter="url(#b4)"/>
<path d="M952,400 L951.5,492" stroke="#26285e" stroke-width="11" opacity="0.85" filter="url(#b2)" fill="none"/>
<path d="M1050,400 Q1046,440 1038,482" stroke="#20236a" stroke-width="7" opacity="0.75" filter="url(#b2)" fill="none"/>
<path d="M1153.5,402 L1128,472" stroke="#14174a" stroke-width="8.5" opacity="0.85" filter="url(#b2)" fill="none"/>
<ellipse cx="1031" cy="526" rx="112" ry="58" fill="url(#glow)"/>
<ellipse cx="1031" cy="470" rx="70" ry="14" fill="#2a32a8" opacity="0.5" filter="url(#b8)"/>
<rect x="890" y="403" width="340" height="3.6" fill="#22244c" opacity="0.75" filter="url(#b1)"/>
</g>
<g filter="url(#b1)">
<g clip-path="url(#gclip)">
<rect x="880" y="545" width="360" height="130" fill="url(#pBot)"/>
<ellipse cx="1050" cy="566" rx="105" ry="26" fill="#7c86dc" opacity="0.8" filter="url(#b8)"/>
<ellipse cx="1070" cy="592" rx="60" ry="18" fill="#848cd0" opacity="0.5" filter="url(#b8)"/>
<ellipse cx="1188" cy="561" rx="26" ry="9" fill="#3c4470" opacity="0.85" filter="url(#b4)"/>
<ellipse cx="1150" cy="570" rx="22" ry="9" fill="#5a6290" opacity="0.6" filter="url(#b4)"/>
<rect x="1120" y="600" width="120" height="80" fill="#80848e" opacity="0.45" filter="url(#b14)"/>
<ellipse cx="1050" cy="668" rx="22" ry="12" fill="#60667e" opacity="0.6" filter="url(#b8)"/>
<ellipse cx="905" cy="650" rx="18" ry="24" fill="#7a8094" opacity="0.5" filter="url(#b8)"/>
<ellipse cx="1152" cy="624" rx="12" ry="9" fill="#60687a" opacity="0.6" filter="url(#b4)"/>
<ellipse cx="1092" cy="640" rx="11" ry="12" fill="#687084" opacity="0.5" filter="url(#b4)"/>
<ellipse cx="990" cy="620" rx="30" ry="18" fill="#b8b8c6" opacity="0.55" filter="url(#b8)"/>
<rect x="880" y="545" width="360" height="130" filter="url(#noise)" opacity="0.5"/>
<rect x="880" y="545" width="360" height="130" filter="url(#noiseL)" opacity="0.3"/>
</g>
</g>
<rect x="1220.6" y="400" width="4" height="275" fill="#303248" opacity="0.5" filter="url(#b1)"/>
<g transform="rotate(-7.7 1031.4 531.6)">
<ellipse cx="1031.4" cy="531.6" rx="68" ry="22" fill="#0428ff" filter="url(#b3)"/>
<ellipse cx="1031.4" cy="531.6" rx="62" ry="18" fill="url(#spot)" filter="url(#b2)"/>
</g>
<path d="M1027.4,511 L1022,554" stroke="#0630b4" stroke-width="4.6" filter="url(#b1)" opacity="0.95" fill="none"/>
</g>

<g stroke="#2b2b2b" stroke-width="4.9" fill="none">
<rect x="852.4" y="120.8" width="1077.9" height="862.2"/>
<path d="M1211.7,983 v-12.5 M1211.7,120.8 v12.5"/>
<path d="M1571,983 v-12.5 M1571,120.8 v12.5"/>
<path d="M852.4,717.7 h12.5 M1930.3,717.7 h-12.5"/>
<path d="M852.4,452.5 h12.5 M1930.3,452.5 h-12.5"/>
<path d="M852.4,187.2 h12.5 M1930.3,187.2 h-12.5"/>
</g>
<path id="ex" transform="scale(1,1.06)" d="M852,927.36 L892.1,927.36 L948.7,927.36 L1000,927.36 L1039.5,927.36 L1073.6,927.36 L1100,927.36 L1115,927.38 L1122.2,927.4 L1130,927.36 L1142.2,927.24 L1155,927.05 L1165.9,926.79 L1173.6,926.51 L1179.4,926.15 L1185,925.57 L1190.9,924.7 L1196.6,923.61 L1201.7,922.26 L1206.1,920.75 L1209.9,918.98 L1213.7,916.7 L1217.7,913.77 L1221.6,910.32 L1225.6,906.51 L1229.6,902.43 L1233.6,897.98 L1237.6,893.02 L1241.6,887.57 L1245.5,881.61 L1249.5,874.91 L1253.6,867.13 L1257.7,858.61 L1261.5,850.09 L1264.8,842.02 L1267.9,833.96 L1271,825.38 L1274.3,815.86 L1277.6,805.82 L1280.6,796.04 L1283.1,787.01 L1285.4,778.24 L1287.7,768.96 L1290.1,758.93 L1292.5,748.39 L1294.9,737.36 L1297.3,725.59 L1299.8,713.33 L1302.1,701.32 L1304.2,690.07 L1306.2,679.06 L1308.1,667.55 L1310.1,654.92 L1312.1,641.78 L1314,629.15 L1315.7,617.39 L1317.3,606.14 L1318.8,595.38 L1320.2,585.63 L1321.5,576.38 L1323,566.04 L1324.7,553.68 L1326.5,540.24 L1328.2,526.89 L1329.8,514.14 L1331.4,501.49 L1333,488.58 L1334.6,475.15 L1336.1,461.46 L1337.7,448.02 L1339.3,434.97 L1340.9,422.17 L1342.5,409.62 L1344.1,397.27 L1345.7,385.18 L1347.3,373.58 L1348.9,362.89 L1350.4,352.68 L1352.1,341.98 L1354,329.97 L1356.1,317.46 L1358.1,305.94 L1360,296.17 L1361.9,287.39 L1364,278.87 L1366.2,270.19 L1368.6,261.77 L1371.2,254.06 L1374.3,246.97 L1377.6,240.6 L1380.8,235.66 L1383.8,232.38 L1386.7,230.53 L1389.6,230.19 L1392.7,231.44 L1395.9,234.19 L1398.7,238.3 L1401,243.99 L1402.9,251.04 L1404.7,258.58 L1406.4,266.27 L1407.9,274.46 L1409.4,283.4 L1411,293.23 L1412.6,303.81 L1414.2,314.91 L1415.8,326.44 L1417.4,338.49 L1419,351.04 L1420.6,364.15 L1422.2,377.75 L1423.8,391.6 L1425.4,405.55 L1427.1,419.74 L1428.6,434.43 L1429.9,449.97 L1431.1,466.01 L1432.4,481.79 L1434.1,497.21 L1435.9,512.38 L1437.6,526.89 L1438.9,540.16 L1440.1,552.77 L1441.2,566.04 L1442.3,580.63 L1443.3,595.88 L1444.4,611.13 L1445.4,626.16 L1446.5,641.19 L1447.6,656.23 L1448.8,671.26 L1450.1,686.29 L1451.5,701.32 L1453,716.35 L1454.6,731.38 L1456.2,746.42 L1457.7,761.45 L1459.3,776.48 L1461,791.51 L1462.9,806.71 L1464.9,821.91 L1467,836.6 L1469.3,851.04 L1471.8,864.98 L1474.2,877.17 L1476.6,887.02 L1478.9,895.13 L1481.3,901.98 L1483.7,907.55 L1486.1,911.88 L1488.5,915.57 L1490.8,918.77 L1493.1,921.33 L1495.7,923.4 L1498.6,924.96 L1501.8,926.03 L1505.2,926.79 L1506.4,927.21 L1507.9,927.32 L1517.2,927.36 L1530.4,927.4 L1551.5,927.38 L1600,927.36 L1703.9,927.36 L1835.3,927.36 L1930,927.36" fill="none" stroke="#0000ff" stroke-width="6.7" stroke-linejoin="round"/>
<g id="inset-ticklabels" font-family="'Liberation Sans', Arial, Helvetica, sans-serif" font-size="69.0" fill="#262626" stroke="#262626" stroke-width="1.1" filter="url(#thin)">
<text transform="translate(828.2,1009.6) scale(1,1.06)" font-size="69" text-anchor="end">0</text>
<text transform="translate(828.2,744.3) scale(1,1.06)" font-size="69" text-anchor="end">2</text>
<text transform="translate(828.2,479.1) scale(1,1.06)" font-size="69" text-anchor="end">4</text>
<text transform="translate(828.2,213.8) scale(1,1.06)" font-size="69" text-anchor="end">6</text>
<text transform="translate(851.6,1075.4) scale(1,1.06)" font-size="69" text-anchor="middle">400</text>
<text transform="translate(1210.9,1075.4) scale(1,1.06)" font-size="69" text-anchor="middle">450</text>
<text transform="translate(1570.2,1075.4) scale(1,1.06)" font-size="69" text-anchor="middle">500</text>
<text transform="translate(1929.5,1075.4) scale(1,1.06)" font-size="69" text-anchor="middle">550</text>
<text transform="translate(905.1,106.2) scale(1,1.06)" font-size="69">10</text>
<text transform="translate(981.9,72.6) scale(1,1.05)" font-size="56">4</text>
</g>
<text transform="translate(853.7,108.6)" font-size="60" font-family="'DejaVu Sans Light', 'DejaVu Sans', sans-serif" fill="#262626" font-weight="200" stroke="#262626" stroke-width="0.5">×</text>
<path d="M1228.5,178 H1375" stroke="#0000ff" stroke-width="7.2" fill="none"/>
<text transform="translate(1386,189) scale(1,1.045)" font-size="68" font-family="'Liberation Sans', Arial, Helvetica, sans-serif" fill="#000">Spectrum of</text>
<text transform="translate(1775.5,187.6)" font-size="64" font-family="'Liberation Serif', 'Times New Roman', Times, serif" fill="#000">λ</text>
<text transform="translate(1813.2,222.6)" font-size="55" font-family="'Liberation Sans', Arial, Helvetica, sans-serif" fill="#000">EX</text>
<g id="ann3" font-family="'Liberation Serif', 'Times New Roman', Times, serif" fill="#000">
<text transform="translate(919.4,258.6) scale(0.86,1.07)" font-size="65">(</text>
<text transform="translate(943.3,261)" font-size="65" letter-spacing="1.97">475nm,55760</text>
<text transform="translate(1326.2,258.6) scale(0.86,1.07)" font-size="65">)</text>
</g>
<circle cx="1389.6" cy="240.2" r="8.8" fill="#000"/>
<g stroke="#000" stroke-width="6.4" fill="none" stroke-linecap="round" stroke-linejoin="round">
<path d="M1324.5,596.1 H1442"/>
<path d="M1347,584.8 L1324.5,596.1 L1347,607.4"/>
<path d="M1419.5,584.8 L1442,596.1 L1419.5,607.4"/>
</g>
<text transform="translate(1448.6,617.8) scale(1,1.026)" font-size="65" font-family="'Liberation Serif', 'Times New Roman', Times, serif" fill="#000" letter-spacing="1.6">16.8nm</text>
<g stroke="#ff0000" stroke-width="2.6" fill="none" stroke-linecap="butt" stroke-linejoin="miter">
<path d="M949.8,476.6 H1130.8"/>
<path d="M969.6,464.6 L949.8,476.6 L969.6,488.6"/>
<path d="M1111,464.6 L1130.8,476.6 L1111,488.6"/>
<path d="M1133.6,493 V545.6"/>
<path d="M1121.8,510.6 L1133.6,493 L1145.4,510.6"/>
<path d="M1121.8,528 L1133.6,545.6 L1145.4,528"/>
</g>
<text x="979" y="456.3" font-family="'Liberation Serif', 'Times New Roman', Times, serif" font-size="51" fill="#ff0000" textLength="126.5" lengthAdjust="spacing">10mm</text>
<text x="1149.6" y="542.4" font-family="'Liberation Serif', 'Times New Roman', Times, serif" font-size="51" fill="#ff0000" textLength="103" lengthAdjust="spacing">8mm</text>
</g>
</g>
</svg>
</body></html>
